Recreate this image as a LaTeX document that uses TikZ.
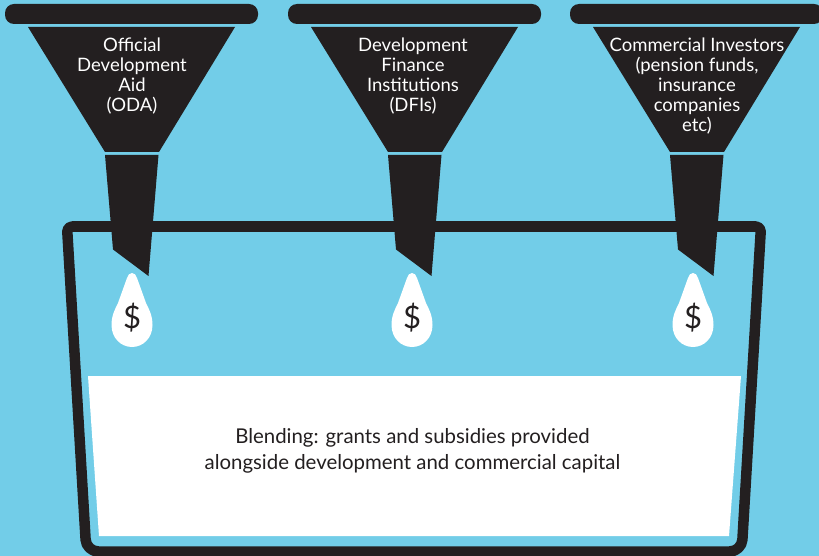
\documentclass[tikz,border=0pt]{standalone}
\usepackage{fontspec}
\setmainfont{Lato}
\definecolor{skyblue}{HTML}{72CDE8}
\definecolor{inkdark}{HTML}{231F20}
\tikzset{
  x=1pt,y=-1pt,
  darkfill/.style={fill=inkdark,draw=none},
  funneltext/.style={text=white,align=center,font=\fontsize{18.5}{20}\selectfont,inner sep=0pt},
  dollar/.style={text=inkdark,font=\fontsize{31}{31}\selectfont,inner sep=0pt},
  blendtext/.style={text=inkdark,align=center,font=\fontsize{20.4}{25.5}\selectfont,inner sep=0pt},
}
\newcommand{\funnelat}[1]{%
  \begin{scope}[shift={(#1,0)}]
    \fill[darkfill,rounded corners=9pt] (5,4) rectangle (258,24);
    \fill[darkfill] (28,27) -- (235,27) -- (159,152) -- (105,152) -- cycle;
    \fill[darkfill] (105,155) -- (158.5,155) -- (148.5,276) -- (113,249.5) -- cycle;
  \end{scope}}
\newcommand{\dropat}[1]{%
  \begin{scope}[shift={(#1,0)}]
    \fill[white] (132,273) .. controls (134.5,273) and (136,275) .. (137,278)
      -- (146,303)
      .. controls (149.5,310) and (152.5,316) .. (152.5,325)
      .. controls (152.5,338) and (143,347) .. (132,347)
      .. controls (121,347) and (111.5,338) .. (111.5,325)
      .. controls (111.5,316) and (114.5,310) .. (118,303)
      -- (127,278)
      .. controls (128,275) and (129.5,273) .. (132,273) -- cycle;
  \end{scope}}
\begin{document}
\begin{tikzpicture}
  \useasboundingbox (0,0) rectangle (819,556);
  \begin{scope}
  \clip (0,0) rectangle (819,556);
  \fill[skyblue] (0,0) rectangle (819,556);
  % blended pool
  \fill[white] (88,376) -- (741,376) -- (729,536) -- (99,536) -- cycle;
  % bucket
  \draw[inkdark,line width=10.5pt,line join=round]
    (400,226.5) [rounded corners=5pt] -- (67,226.5) [rounded corners=12pt] -- (86.3,551.5)
    -- (741.7,551.5) [rounded corners=5pt] -- (761,226.5) -- cycle;
  \funnelat{0}
  \funnelat{283}
  \funnelat{565}
  \dropat{0}
  \dropat{280}
  \dropat{561}
  \end{scope}
  \node[funneltext] (oda) at (132,76) {Official\\Development\\Aid\\(ODA)};
  \node[funneltext] (dfi) at (413,76) {Development\\Finance\\Institutions\\(DFIs)};
  \node[funneltext] (com) at (697,86) {Commercial Investors\\(pension funds,\\insurance\\companies\\etc)};
  \node[dollar] (d1) at (132,318) {\$};
  \node[dollar] (d2) at (412,318) {\$};
  \node[dollar] (d3) at (693,318) {\$};
  \node[blendtext] (blend) at (412.5,451) {Blending: grants and subsidies provided\\alongside development and commercial capital};
\end{tikzpicture}
\end{document}
